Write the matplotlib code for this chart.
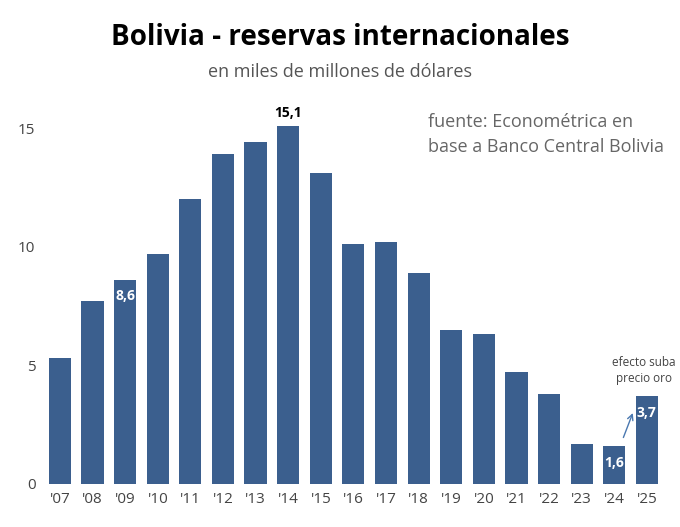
import matplotlib.pyplot as plt

years = ["'07", "'08", "'09", "'10", "'11", "'12", "'13", "'14", "'15", "'16",
         "'17", "'18", "'19", "'20", "'21", "'22", "'23", "'24", "'25"]
reservas = [5.3, 7.7, 8.6, 9.7, 12.0, 13.9, 14.4, 15.1, 13.1, 10.1,
            10.2, 8.9, 6.5, 6.3, 4.7, 3.8, 1.7, 1.6, 3.7]

plt.rcParams['font.family'] = ['Open Sans', 'DejaVu Sans']
color = '#3B5F8E'

fig = plt.figure(figsize=(6.8, 5.27), dpi=100)
ax = fig.add_axes([0.0594, 0.0816, 0.9206, 0.743])
x = range(len(years))
ax.bar(x, reservas, width=0.68, color=color)
ax.set_xlim(-0.6, len(years) - 0.4)
ax.set_ylim(0, 16.5)
ax.set_yticks([0, 5, 10, 15])
ax.set_xticks(list(x))
ax.set_xticklabels(years)
ax.tick_params(length=0, labelsize=11, colors='#444444')
ax.tick_params(axis='x', pad=6)
for s in ax.spines.values():
    s.set_visible(False)

# etiquetas de valores
ax.text(7, 15.1 + 0.25, '15,1', ha='center', va='bottom', fontsize=10, fontweight='bold')
for i in (2, 17, 18):
    ax.text(i, reservas[i] - 0.4, f"{reservas[i]:.1f}".replace('.', ','),
            ha='center', va='top', fontsize=10, fontweight='bold', color='white')

ax.annotate('', xy=(17.6, 3.1), xytext=(17.25, 1.85),
            arrowprops=dict(arrowstyle='->', color='#4A78B0', lw=1))
ax.text(17.9, 4.8, 'efecto suba\nprecio oro', ha='center', va='center',
        fontsize=8.5, color='#444444', linespacing=1.3)

fig.text(0.63, 0.745, 'fuente: Econométrica en\nbase a Banco Central Bolivia',
         fontsize=13, color='#666666', va='center', linespacing=1.5)
fig.text(0.5, 0.928, 'Bolivia - reservas internacionales', ha='center', va='center',
         fontsize=20, fontweight='bold')
fig.text(0.5, 0.863, 'en miles de millones de dólares', ha='center', va='center',
         fontsize=13, color='#555555')

fig.savefig('out.png', dpi=100)
